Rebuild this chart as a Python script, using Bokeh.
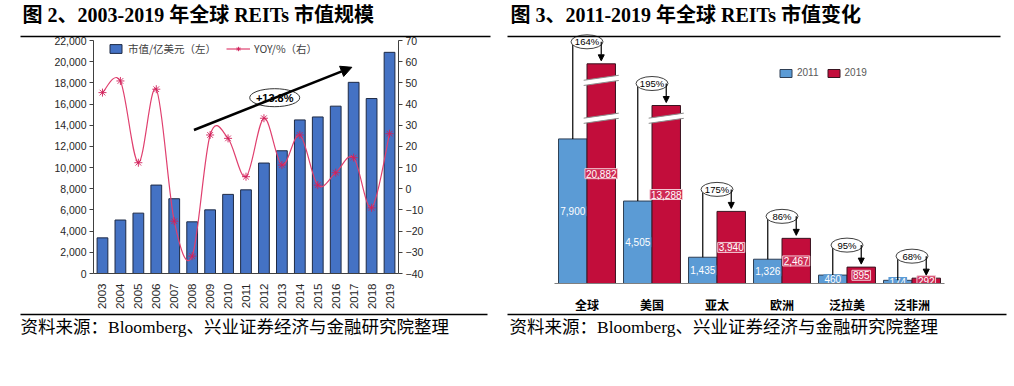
import math
from bokeh.plotting import figure
from bokeh.models import (Range1d, LinearAxis, FixedTicker, SingleIntervalTicker,
                          NumeralTickFormatter, Legend, LegendItem, Arrow, NormalHead,
                          ColumnDataSource)
from bokeh.embed import file_html
from bokeh.resources import INLINE
from bokeh.core.properties import value

# ---------------- data ----------------
years = list(range(2003, 2020))
market_cap = [3365, 5050, 5700, 8350, 7060, 4880, 6010, 7470, 7900,
              10430, 11590, 14500, 14780, 15800, 18050, 16520, 20882]
yoy = [45.4, 50.9, 12.3, 47.0, -15.3, -31.8, 25.4, 23.8, 5.7,
       33.3, 11.2, 25.4, 1.7, 7.6, 14.7, -9.0, 26.0]
cagr_label = "+13.8%"

regions = ["全球", "美国", "亚太", "欧洲", "泛拉美", "泛非洲"]
cap_2011 = [7900, 4505, 1435, 1326, 460, 174]
cap_2019 = [20882, 13288, 3940, 2467, 895, 292]

title_left = "图 2、2003-2019 年全球 REITs 市值规模"
title_right = "图 3、2011-2019 年全球 REITs 市值变化"
source_note = "资料来源：Bloomberg、兴业证券经济与金融研究院整理"

# ---------------- styles ----------------
SANS = "Liberation Sans"
CJK = "Noto Sans CJK SC"
SERIF_CJK = "Liberation Serif, Noto Sans CJK SC"
BAR_BLUE = "#4472C4"
LINE_PINK = "#E0406F"
BLUE11 = "#5B9BD5"
RED19 = "#C20D3B"
H = 378


def place(fig, left, top):
    fig.styles = {"position": "absolute", "left": f"{left}px", "top": f"{top}px"}


# ================= left chart =================
FL1, FT1, FR1, FB1 = 93, 40, 398, 273
W1 = 500
p1 = figure(width=W1, height=H, x_range=Range1d(2002.5, 2019.5), y_range=Range1d(0, 22000),
            output_backend="svg", toolbar_location=None, title=None,
            min_border_left=FL1, min_border_right=W1 - FR1, min_border_top=FT1,
            min_border_bottom=H - FB1)
p1.outline_line_color = None
p1.xgrid.visible = False
p1.ygrid.visible = False
p1.extra_y_ranges = {"yoy": Range1d(-40, 70)}

AX_COLOR = "#404040"
p1.yaxis.ticker = SingleIntervalTicker(interval=2000)
p1.yaxis.formatter = NumeralTickFormatter(format="0,0")
p1.xaxis.ticker = FixedTicker(ticks=years)
p1.xaxis.major_label_orientation = math.pi / 2
p1.xaxis.major_label_standoff = 4

ax_r = LinearAxis(y_range_name="yoy", ticker=SingleIntervalTicker(interval=10))
p1.add_layout(ax_r, "right")

for ax in [p1.yaxis[0], ax_r]:
    ax.major_tick_in = 0
    ax.major_tick_out = 4
    ax.major_tick_line_color = AX_COLOR
    ax.major_label_standoff = 3
for ax in [p1.xaxis[0], p1.yaxis[0], ax_r]:
    ax.minor_tick_line_color = None
    ax.axis_line_color = AX_COLOR
    ax.major_label_text_font = SANS
    ax.major_label_text_font_size = "10.5px"
    ax.major_label_text_color = "#262626"
p1.xaxis.major_tick_line_color = None
p1.xaxis.major_label_text_font_size = "11.5px"

bars = p1.vbar(x=years, top=market_cap, width=0.6, fill_color=BAR_BLUE,
               line_color="#1E2A45", line_width=1)

# smoothed YOY line (cubic bezier segments through the data points)
n = len(years)
seg = dict(x0=[], y0=[], x1=[], y1=[], cx0=[], cy0=[], cx1=[], cy1=[])
for i in range(n - 1):
    xm, ym = (years[i - 1], yoy[i - 1]) if i > 0 else (years[i], yoy[i])
    x2, y2 = (years[i + 2], yoy[i + 2]) if i + 2 < n else (years[i + 1], yoy[i + 1])
    seg["x0"].append(years[i]); seg["y0"].append(yoy[i])
    seg["x1"].append(years[i + 1]); seg["y1"].append(yoy[i + 1])
    seg["cx0"].append(years[i] + (years[i + 1] - xm) / 6)
    seg["cy0"].append(yoy[i] + (yoy[i + 1] - ym) / 6)
    seg["cx1"].append(years[i + 1] - (x2 - years[i]) / 6)
    seg["cy1"].append(yoy[i + 1] - (y2 - yoy[i]) / 6)
p1.bezier(x0="x0", y0="y0", x1="x1", y1="y1", cx0="cx0", cy0="cy0", cx1="cx1", cy1="cy1",
          source=ColumnDataSource(seg), line_color=LINE_PINK, line_width=1.2, y_range_name="yoy")
legend_line = p1.line(x=years[:2], y=[float("nan")] * 2, line_color=LINE_PINK, line_width=1.2,
                      y_range_name="yoy")
marks = p1.scatter(x=years, y=yoy, marker="asterisk", size=8, line_color="#D0205A",
                   line_width=0.9, y_range_name="yoy")

# trend arrow + label
p1.add_layout(Arrow(x_start=2008.1, y_start=13550, x_end=2016.9, y_end=19470,
                    line_color="black", line_width=2.5,
                    end=NormalHead(size=11, fill_color="black", line_color="black")))
p1.ellipse(x=[2012.6], y=[16600], width=50, height=18, width_units="screen",
           height_units="screen", fill_color="white", line_color="#333333", line_width=1)
p1.text(x=[2012.6], y=[16600], text=[cagr_label], text_align="center", text_baseline="middle",
        text_font=value(SANS), text_font_size="11px", text_font_style="bold", text_color="black")

lg1 = Legend(items=[LegendItem(label="市值/亿美元（左）", renderers=[bars])],
             location=(15, 217), orientation="horizontal", glyph_width=15, glyph_height=11,
             label_height=11, label_standoff=5, padding=0, margin=0, spacing=0,
             border_line_color=None, background_fill_alpha=0,
             label_text_font=CJK, label_text_font_size="10.5px", label_text_color="#404040")
lg2 = Legend(items=[LegendItem(label="YOY/%（右）", renderers=[legend_line, marks])],
             location=(133, 217), orientation="horizontal", glyph_width=24, glyph_height=11,
             label_height=11, label_standoff=4, padding=0, margin=0, spacing=0,
             border_line_color=None, background_fill_alpha=0,
             label_text_font=CJK, label_text_font_size="10.5px", label_text_color="#404040")
p1.add_layout(lg1, "center")
p1.add_layout(lg2, "center")
place(p1, 0, 0)

# ================= right chart =================
OFF = 500
FL2, FT2, FR2, FB2 = 554, 30, 944, 283
W2 = 506
PX_PER_UNIT = 0.0183
YTOP = (FB2 - FT2) / PX_PER_UNIT
p2 = figure(width=W2, height=H, x_range=Range1d(-0.5, 5.5), y_range=Range1d(0, YTOP),
            output_backend="svg", toolbar_location=None, y_axis_location=None, title=None,
            min_border_left=FL2 - OFF, min_border_right=OFF + W2 - FR2, min_border_top=FT2,
            min_border_bottom=H - FB2)
p2.outline_line_color = None
p2.xgrid.visible = False
p2.ygrid.visible = False
p2.xaxis.ticker = FixedTicker(ticks=list(range(len(regions))))
p2.xaxis.major_label_overrides = {i: r for i, r in enumerate(regions)}
p2.xaxis.major_tick_line_color = None
p2.xaxis.minor_tick_line_color = None
p2.xaxis.axis_line_color = "#7F7F7F"
p2.xaxis.major_label_text_font = CJK
p2.xaxis.major_label_text_font_size = "12px"
p2.xaxis.major_label_text_font_style = "bold"
p2.xaxis.major_label_text_color = "black"
p2.xaxis.major_label_standoff = 6

BREAK, SQUEEZE = 8200, 0.3


def shown(v):
    return v if v <= BREAK else BREAK + (v - BREAK) * SQUEEZE


HALF = 0.219
BW = 0.438
xs11 = [i - HALF for i in range(len(regions))]
xs19 = [i + HALF for i in range(len(regions))]
top11 = [shown(v) for v in cap_2011]
top19 = [shown(v) for v in cap_2019]
r11 = p2.vbar(x=xs11, top=top11, width=BW, fill_color=BLUE11, line_color="#2E3F55", line_width=1)
r19 = p2.vbar(x=xs19, top=top19, width=BW, fill_color=RED19, line_color="#3A1420", line_width=1)

# axis-break marks on the compressed bars
break_marks = [(0, 9030), (0, 11100), (1, 9030)]
gap = 2.6 / PX_PER_UNIT
rise = 2.5 / PX_PER_UNIT
for ci, yb in break_marks:
    xa, xb = ci + HALF - 0.27, ci + HALF + 0.27
    p2.patch(x=[xa, xb, xb, xa], y=[yb - rise - gap, yb + rise - gap, yb + rise + gap, yb - rise + gap],
             fill_color="white", line_color=None)
    p2.segment(x0=[xa, xa], y0=[yb - rise - gap, yb - rise + gap], x1=[xb, xb],
               y1=[yb + rise - gap, yb + rise + gap], line_color="#8C8C8C", line_width=1)

# value labels
p2.text(x=xs11, y=[t / 2 for t in top11], text=[f"{v:,}" for v in cap_2011],
        text_align="center", text_baseline="middle", text_font=value(SANS),
        text_font_size="10px", text_color="white", background_fill_color=BLUE11, padding=1)
p2.text(x=xs19, y=[t / 2 for t in top19], text=[f"{v:,}" for v in cap_2019],
        text_align="center", text_baseline="middle", text_font=value(SANS),
        text_font_size="10px", text_color="white", background_fill_color="#CF2B55",
        border_line_color="#F2C8D2", border_line_width=1, padding=1)

# growth brackets
LIFT = 22 / PX_PER_UNIT
TIP = 3 / PX_PER_UNIT
lvl = [t + LIFT for t in top19]
growth = [f"{round((b / a - 1) * 100)}%" for a, b in zip(cap_2011, cap_2019)]
p2.segment(x0=xs11, y0=top11, x1=xs11, y1=lvl, line_color="black", line_width=1.2)
p2.segment(x0=xs11, y0=lvl, x1=xs19, y1=lvl, line_color="black", line_width=1.2)
p2.add_layout(Arrow(source=ColumnDataSource(dict(xs=xs19, ys=lvl, ye=[t + TIP for t in top19])),
                    x_start="xs", y_start="ys", x_end="xs", y_end="ye",
                    line_color="black", line_width=1.2,
                    end=NormalHead(size=6, fill_color="black", line_color="black")))
xc = list(range(len(regions)))
p2.ellipse(x=xc, y=lvl, width=32, height=14, width_units="screen", height_units="screen",
           fill_color="white", line_color="#404040", line_width=1)
p2.text(x=xc, y=lvl, text=growth, text_align="center", text_baseline="middle",
        text_font=value(SANS), text_font_size="9.5px", text_color="black")

lg3 = Legend(items=[LegendItem(label="2011", renderers=[r11]), LegendItem(label="2019", renderers=[r19])],
             location=(778 - FL2, FB2 - 78), orientation="horizontal", glyph_width=15,
             glyph_height=10, label_height=10, label_standoff=4, spacing=7, padding=0, margin=0,
             border_line_color=None, background_fill_alpha=0, label_text_font=SANS,
             label_text_font_size="10px", label_text_color="#595959")
p2.add_layout(lg3, "center")
place(p2, OFF, 0)

# ================= page titles, rules and source notes =================
deco = figure(width=1014, height=386, x_range=Range1d(0, 1014), y_range=Range1d(386, 0),
              output_backend="svg", toolbar_location=None, title=None,
              x_axis_location=None, y_axis_location=None,
              min_border_left=0, min_border_right=0, min_border_top=0, min_border_bottom=0)
deco.outline_line_color = None
deco.xgrid.visible = False
deco.ygrid.visible = False
deco.background_fill_alpha = 0
deco.border_fill_alpha = 0

deco.text(x=[22, 510], y=[14, 14], text=[title_left, title_right], text_align="left",
          text_baseline="middle", text_font=value(SERIF_CJK), text_font_size="20px",
          text_font_style="bold", text_color="black")
deco.segment(x0=[20, 507, 20, 507], y0=[36, 36, 314, 314], x1=[490, 1000, 487, 1006],
             y1=[36, 36, 314, 314], line_color="black", line_width=1.5)
deco.text(x=[20, 509], y=[326, 326], text=[source_note, source_note], text_align="left",
          text_baseline="middle", text_font=value(SERIF_CJK), text_font_size="17.5px",
          text_color="black")
place(deco, 0, 0)

open("out.html", "w").write(file_html([p1, p2, deco], INLINE))
